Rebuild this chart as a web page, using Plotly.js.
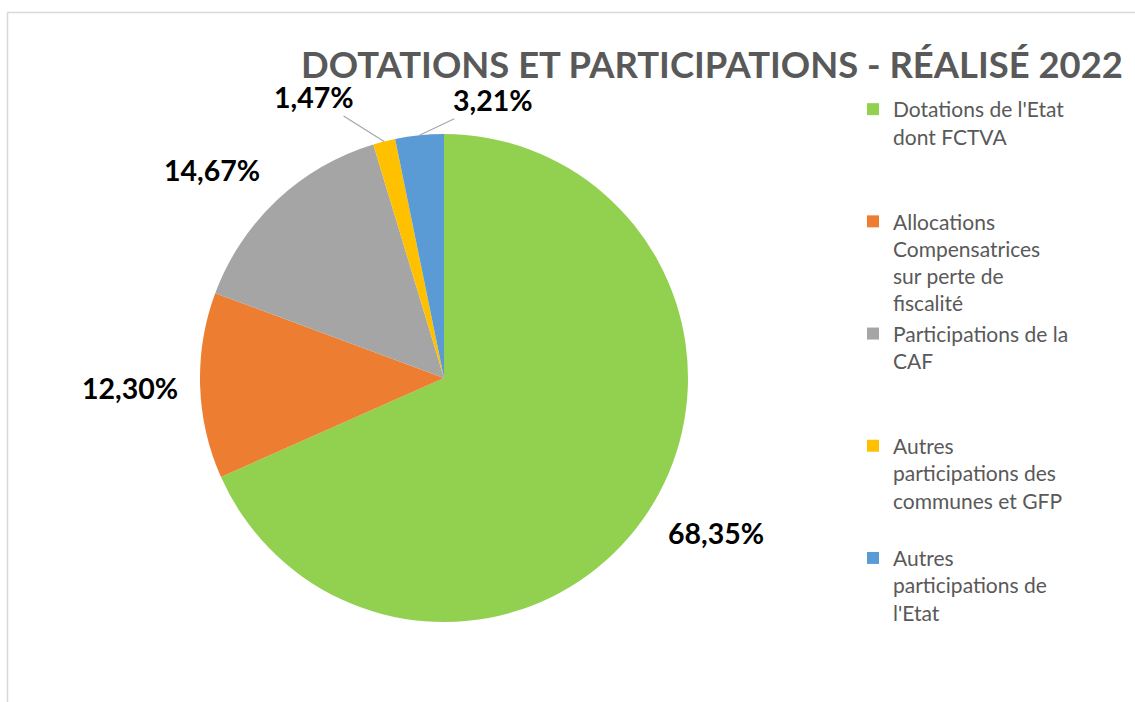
<!DOCTYPE html>
<html>
<head>
<meta charset="utf-8">
<script src="https://cdn.plot.ly/plotly-3.0.1.min.js"></script>
<style>html,body{margin:0;padding:0;background:#fff;}#chart{width:1135px;height:702px;}</style>
</head>
<body>
<div id="chart"></div>
<script>
const categories = [
  "Dotations de l'Etat dont FCTVA",
  "Allocations Compensatrices sur perte de fiscalité",
  "Participations de la CAF",
  "Autres participations des communes et GFP",
  "Autres participations de l'Etat"
];
const legendLines = [
  ["Dotations de l'Etat", "dont FCTVA"],
  ["Allocations", "Compensatrices", "sur perte de", "fiscalité"],
  ["Participations de la", "CAF"],
  ["Autres", "participations des", "communes et GFP"],
  ["Autres", "participations de", "l'Etat"]
];
const values = [68.35, 12.30, 14.67, 1.47, 3.21];
const colors = ["#92D050", "#ED7D31", "#A5A5A5", "#FFC000", "#5B9BD5"];

const W = 1135, H = 702;
const cx = 444, cy = 378, R = 244;
const labelFont = { family: "Lato, 'Open Sans', sans-serif", size: 28.5, color: "#000000", weight: "bold" };

const legendLabels = legendLines.map(lines => {
  const padded = lines.slice();
  while (padded.length < 4) padded.push(" ");
  return padded.join("<br>");
});

// Percent labels anchored at each slice's outer mid-point (computed from the values)
const total = values.reduce((a, b) => a + b, 0);
// label placement style per slice: pixel offset of text from the slice edge; leader = draw a connector
const labelOffsets = [[67, 22], [-70, 2], [-65, -30], [-70, -44], [74, -35]];
const labelLeader = [false, false, false, true, true];
const annotations = [];
let cum = 0;
values.forEach((v, i) => {
  const mid = (cum + v / 2) / total * 2 * Math.PI;
  cum += v;
  const ex = cx + Math.sin(mid) * R, ey = cy - Math.cos(mid) * R;
  const txt = (v / total * 100).toFixed(2).replace(".", ",") + "%";
  const base = {
    xref: "paper", yref: "paper",
    x: ex / W, y: (H - ey) / H,
    text: "<b>" + txt + "</b>", font: labelFont
  };
  if (!labelLeader[i]) {
    annotations.push(Object.assign(base, {
      xanchor: "center", yanchor: "middle", showarrow: false,
      xshift: labelOffsets[i][0], yshift: -labelOffsets[i][1]
    }));
  } else {
    annotations.push(Object.assign(base, {
      showarrow: true, arrowhead: 0, arrowwidth: 1.2, arrowcolor: "#a6a6a6",
      ax: labelOffsets[i][0], ay: labelOffsets[i][1], standoff: 0
    }));
  }
});

const trace = {
  type: "pie",
  labels: legendLabels,
  values: values,
  hovertext: categories,
  sort: false,
  direction: "clockwise",
  rotation: 0,
  marker: { colors: colors, line: { width: 0 } },
  textinfo: "none",
  domain: { x: [(cx - R) / W, (cx + R) / W], y: [(H - cy - R) / H, (H - cy + R) / H] },
  automargin: false,
  showlegend: true
};

const layout = {
  width: W, height: H,
  margin: { l: 0, r: 0, t: 0, b: 0 },
  paper_bgcolor: "#ffffff",
  title: {
    text: "<b>DOTATIONS ET PARTICIPATIONS - RÉALISÉ 2022</b>",
    font: { family: "Lato, 'Open Sans', sans-serif", size: 36.4, color: "#595959" },
    x: 712 / W, xanchor: "center", xref: "paper",
    y: (H - 65) / H, yanchor: "middle", yref: "paper"
  },
  legend: {
    x: 853 / W, xanchor: "left",
    y: (H - 89) / H, yanchor: "top",
    valign: "top",
    font: { family: "Lato, 'Open Sans', sans-serif", size: 21, color: "#595959" },
    bgcolor: "rgba(0,0,0,0)",
    traceorder: "normal"
  },
  annotations: annotations,
  shapes: [{
    type: "rect", xref: "paper", yref: "paper",
    x0: 7.5 / W, x1: 1.02, y0: -0.02, y1: (H - 12.5) / H,
    line: { color: "#d9d9d9", width: 1.5 }, fillcolor: "rgba(0,0,0,0)", layer: "below"
  }]
};

Plotly.newPlot("chart", [trace], layout, { staticPlot: true, displayModeBar: false });
</script>
</body>
</html>
